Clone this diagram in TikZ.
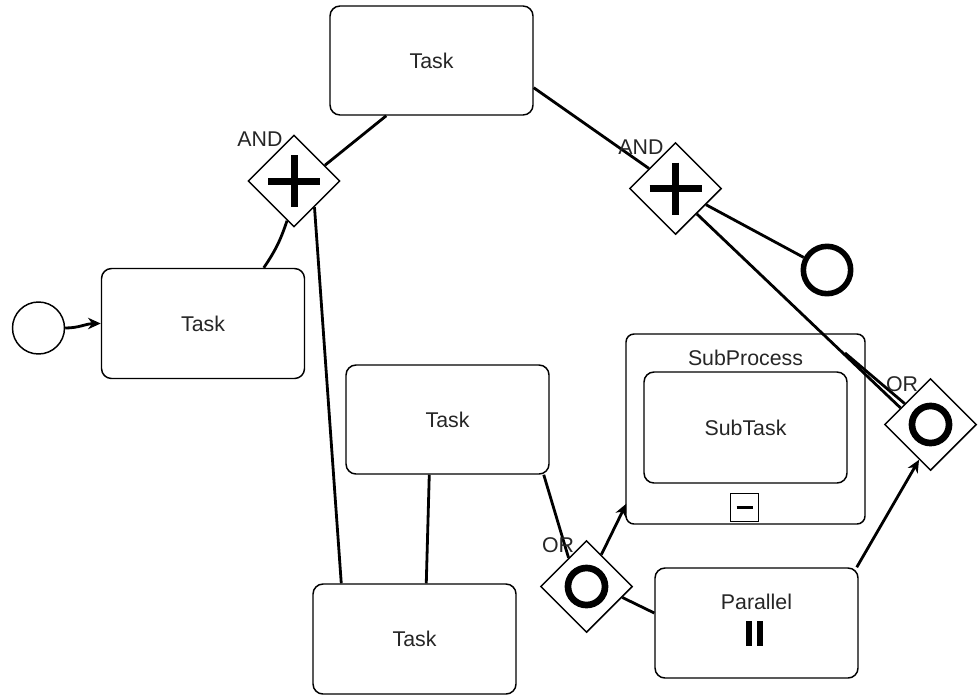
\documentclass[tikz,border=0pt]{standalone}
\usepackage{fontspec}
\setmainfont{Liberation Sans}
\usetikzlibrary{shapes.geometric,arrows.meta,calc}
\begin{document}
\begin{tikzpicture}[x=0.75pt,y=-0.75pt,
  txt/.style={font=\fontsize{16}{19}\selectfont, text=black!85},
  task/.style={draw, line width=1.1pt, rounded corners=7.5pt, fill=white,
    minimum width=152.25pt, minimum height=82.5pt, inner sep=0pt, txt},
  gw/.style={draw, diamond, aspect=1, minimum width=69pt, minimum height=69pt,
    inner sep=0pt, line width=1.1pt, fill=white},
  conn/.style={line width=2.1pt},
  arr/.style={conn, -{Stealth[length=9.5pt,width=8.5pt,inset=3pt]}},
  lbl/.style={txt, inner sep=0pt},
  plusbar/.style={line width=5.25pt},
  ormark/.style={line width=5pt}
]
\useasboundingbox (0,0) rectangle (980,696);
\fill[white] (0,0) rectangle (980,696);

% events
\node[circle, draw, line width=1.1pt, minimum size=39pt, inner sep=0pt, fill=white] (start) at (38.5,328) {};
\node[circle, draw, line width=4.2pt, minimum size=35.5pt, inner sep=0pt, fill=white] (endev) at (827,270) {};

% tasks
\node[task] (t1) at (203,323.5) {Task};
\node[task, minimum height=81.75pt] (ttop) at (431.5,60.5) {Task};
\node[task, minimum height=81.75pt] (tmid) at (447.5,419.5) {Task};
\node[task] (tbot) at (414.5,639) {Task};

% subprocess
\node[draw, line width=1.1pt, rounded corners=6pt, fill=white, minimum width=179.25pt,
  minimum height=142.5pt, inner sep=0pt] (sp) at (745.5,429) {};
\node[task, minimum height=83.25pt] (subt) at (745.5,427.5) {SubTask};
\node[draw, line width=1.1pt, minimum size=21pt, inner sep=0pt] (col) at (744.5,507.5) {};
\draw[line width=2.6pt] ($(col)+(-8,0)$) -- ($(col)+(8,0)$);

% parallel task
\node[task] (par) at (756.5,623) {};
\fill[black] (746,621) rectangle (752,646);
\fill[black] (757,621) rectangle (763,646);

% gateways
\node[gw] (and1) at (294,181) {};
\node[gw] (and2) at (675.5,188.5) {};
\node[gw] (orR) at (930.5,424.5) {};
\node[gw] (orB) at (586.5,586.5) {};
\draw[plusbar] ($(and1)+(-26,0)$) -- ($(and1)+(26,0)$);
\draw[plusbar] ($(and1)+(0,-26)$) -- ($(and1)+(0,26)$);
\draw[plusbar] ($(and2)+(-26,0)$) -- ($(and2)+(26,0)$);
\draw[plusbar] ($(and2)+(0,-26)$) -- ($(and2)+(0,26)$);
\draw[ormark] (orR) circle[radius=13.9pt];
\draw[ormark] (orB) circle[radius=13.9pt];

% connectors
\draw[arr] (start.east) to[out=0,in=180] (t1.west);
\draw[conn] ($(t1.north west)+(163,0)$) to[bend right=8] (and1.260);
\draw[conn] (and1.27) -- ($(ttop.south west)+(57,0)$);
\draw[conn] (and1.-52) -- ($(tbot.north west)+(29,0)$);
\draw[conn] ($(ttop.south east)+(0,-28)$) -- (and2.143);
\draw[conn] (and2.-28) -- (endev);
\draw[conn] (and2.-50) -- (orR.151);
\coordinate (stub) at (845,353);
\draw[conn] (stub) -- (orR.141);
\draw[conn] ($(tmid.south west)+(84,0)$) -- ($(tbot.north west)+(114,0)$);
\draw[conn] ($(tmid.south east)+(-6,0)$) -- (orB.122);
\draw[arr] (orB.65) -- ($(sp.south west)+(1,-21)$);
\draw[conn] (orB.-17) -- ($(par.west)+(0,-10)$);
\draw[arr] ($(par.north east)+(-2,0)$) -- (orR.-108);

% labels
\node[lbl] (andl1) at (260,139) {AND};
\node[lbl] (andl2) at (641,147) {AND};
\node[lbl] (orl1) at (902,384) {OR};
\node[lbl] (orl2) at (558,545) {OR};
\node[lbl] (splbl) at (745.5,358) {SubProcess};
\node[lbl] (parlbl) at (756.5,602) {Parallel};
\end{tikzpicture}
\end{document}
